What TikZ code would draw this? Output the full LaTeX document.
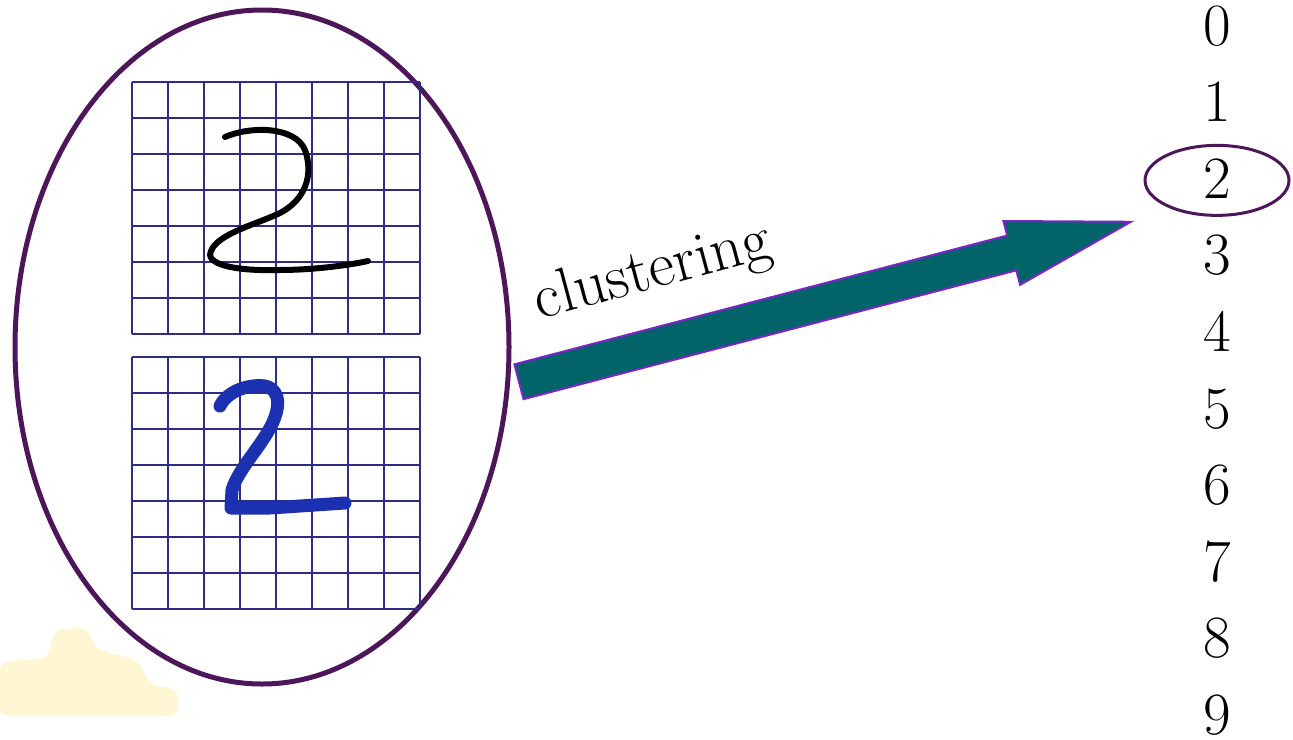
\documentclass[tikz,border=0pt]{standalone}
\usepackage{fontspec}
\newcommand\timesfont{\rmfamily}
\usetikzlibrary{shapes.geometric,shapes.arrows,calc}

\definecolor{ringcol}{RGB}{78,22,90}
\definecolor{gridcol}{RGB}{45,45,135}
\definecolor{inkblue}{RGB}{28,48,178}
\definecolor{arrowfill}{RGB}{0,100,104}
\definecolor{arrowedge}{RGB}{125,35,200}
\definecolor{blobcol}{RGB}{255,247,212}

\begin{document}
\begin{tikzpicture}[x=1pt,y=-1pt,
    ring/.style={draw=ringcol, line width=5pt, ellipse, inner sep=0pt},
    gridline/.style={draw=gridcol, line width=1.5pt},
    digit/.style={font=\timesfont\fontsize{60}{62}\selectfont, anchor=base, inner sep=0pt},
    flowarrow/.style={single arrow, fill=arrowfill, draw=arrowedge, line width=2pt,
      inner xsep=0pt, inner ysep=17pt, single arrow head extend=15pt, single arrow tip angle=30}]

    % パラメータの定義
    \pgfmathsetmacro{\cell}{36}
    \pgfmathsetmacro{\gap}{76.6}

    % 背景
    \useasboundingbox (0,0) rectangle (1293,739);
    \fill [blobcol, rounded corners=8pt] (0,662) -- (48,658) -- (54,630) -- (86,627) -- (98,650)
      -- (138,660) -- (150,684) -- (178,690) -- (178,716) -- (0,716) -- cycle;

    % 楕円の描画
    \node (cluster) [ring, minimum width=494pt, minimum height=674pt] at (262,347) {};

    % グリッドの描画
    \foreach \gy in {82,357} {
      \foreach \i in {0,...,8}
        \draw [gridline] (132+\i*\cell,\gy) -- (132+\i*\cell,\gy+7*\cell);
      \foreach \j in {0,...,7}
        \draw [gridline] (132,\gy+\j*\cell) -- (132+8*\cell,\gy+\j*\cell);
    }

    % 手書きの2
    \draw [line width=6pt, line cap=round, line join=round]
      (225,137) .. controls (250,126) and (295,126) .. (305,150)
      .. controls (314,175) and (305,200) .. (280,213)
      .. controls (255,225) and (212,235) .. (210,255)
      .. controls (212,268) and (250,271) .. (280,270)
      .. controls (310,270) and (345,266) .. (368,261);
    \draw [inkblue, line width=13pt, line cap=round, line join=round]
      (220,406) .. controls (228,390) and (250,384) .. (265,386)
      .. controls (282,390) and (280,410) .. (270,428)
      .. controls (258,450) and (238,470) .. (232,490)
      -- (231,508) -- (270,508) -- (345,503);

    % 数字の描画
    \foreach \k in {0,...,9}
      \node (d\k) [digit] at (1217,45+\k*\gap) {\k};
    \node (pick) [ring, line width=3pt, minimum width=144pt, minimum height=70pt]
      at ([yshift=-2pt]d2.center) {};

    % 矢印の描画
    \coordinate (tail) at (518,382);
    \coordinate (tip) at (1130,222);
    \path let \p1 = ($(tip)-(tail)$), \n1 = {atan2(\y1,\x1)}, \n2 = {veclen(\x1,\y1)} in
      node (flow) [flowarrow, rotate=\n1, minimum height=\n2, anchor=tail] at (tail) {};
    \node (label) [font=\timesfont\fontsize{63}{66}\selectfont, rotate=15, anchor=base, inner sep=0pt]
      at (657,288) {clustering};

\end{tikzpicture}
\end{document}
